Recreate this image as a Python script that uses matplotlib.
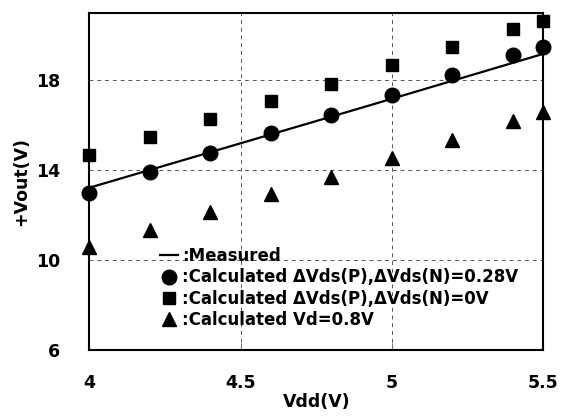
import matplotlib
matplotlib.use("Agg")
import matplotlib.pyplot as plt

# data
vdd = [4.0, 4.2, 4.4, 4.6, 4.8, 5.0, 5.2, 5.4, 5.5]
calc_028 = [13.0, 13.92, 14.76, 15.64, 16.45, 17.34, 18.22, 19.1, 19.47]
calc_0 = [14.7, 15.48, 16.27, 17.07, 17.85, 18.66, 19.47, 20.28, 20.64]
calc_vd = [10.6, 11.33, 12.16, 12.94, 13.72, 14.54, 15.36, 16.2, 16.6]

meas_vdd = [4.0, 4.9, 5.5]
meas_out = [13.23, 16.78, 19.17]

labels = [":Measured",
          ":Calculated \u0394Vds(P),\u0394Vds(N)=0.28V",
          ":Calculated \u0394Vds(P),\u0394Vds(N)=0V",
          ":Calculated Vd=0.8V"]

plt.rcParams["font.family"] = "DejaVu Sans"
plt.rcParams["font.weight"] = "bold"

fig = plt.figure(figsize=(5.61, 4.19), dpi=100)
ax = fig.add_axes([0.1595, 0.1635, 0.8085, 0.8062])

ax.plot(meas_vdd, meas_out, color="black", lw=1.6, label=labels[0], clip_on=False)
ax.plot(vdd, calc_028, "o", color="black", ms=10.5, label=labels[1], clip_on=False)
ax.plot(vdd, calc_0, "s", color="black", ms=8.8, label=labels[2], clip_on=False)
ax.plot(vdd, calc_vd, "^", color="black", ms=10.5, label=labels[3], clip_on=False)

ax.set_xlim(4, 5.5)
ax.set_ylim(6, 21)
ax.set_xticks([4, 4.5, 5, 5.5])
ax.set_xticklabels(["4", "4.5", "5", "5.5"])
ax.set_yticks([6, 10, 14, 18])

ax.grid(True, color="#555555", ls=(0, (4, 4)), lw=0.7)
for s in ax.spines.values():
    s.set_linewidth(1.5)

ax.tick_params(axis="x", direction="in", length=5, width=0.8, color="#777777",
               pad=17, labelsize=12.5)
ax.tick_params(axis="y", direction="in", length=0, pad=21, labelsize=12.5)

ax.set_xlabel("Vdd(V)", fontsize=12.5, fontweight="bold", labelpad=1)
ax.set_ylabel("+Vout(V)", fontsize=12.5, fontweight="bold", labelpad=4)

ax.legend(loc="upper left", bbox_to_anchor=(0.155, 0.306), frameon=False,
          borderpad=0, borderaxespad=0, handlelength=1.1, handletextpad=0.25,
          labelspacing=0.2, prop={"size": 12, "weight": "bold"})

plt.savefig("out.png", dpi=100)
